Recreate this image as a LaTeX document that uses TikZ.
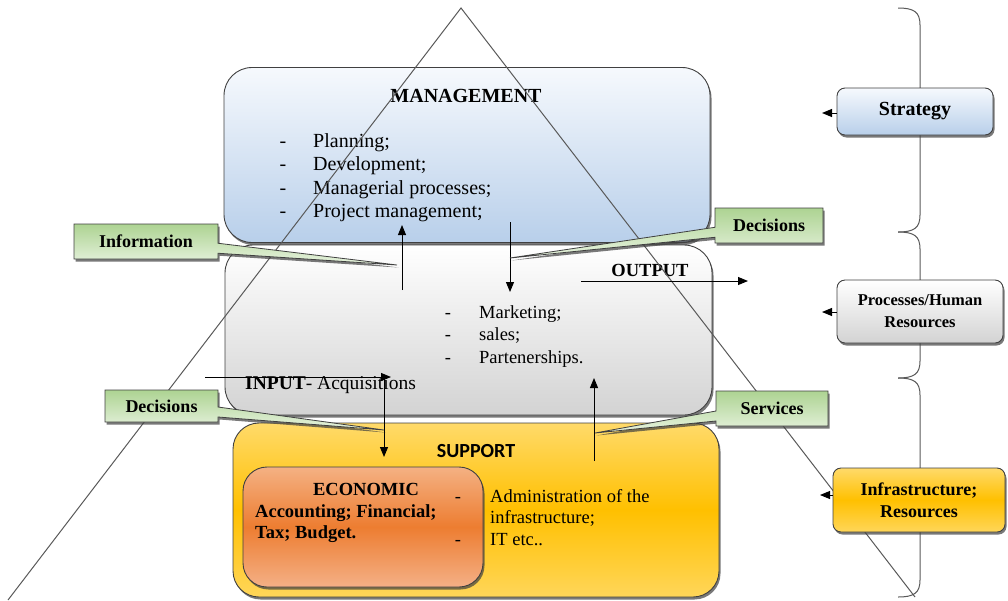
\documentclass[tikz,border=0pt]{standalone}
\usepackage{fontspec}
\setmainfont{Liberation Serif}
\newfontfamily\supportfont{Carlito}
\usepackage{xcolor}
\usetikzlibrary{arrows.meta,shadows,shapes.callouts}
\definecolor{mgmttop}{HTML}{F6F9FD}
\definecolor{mgmtbottom}{HTML}{B8CFEA}
\definecolor{proctop}{HTML}{FFFFFF}
\definecolor{procbottom}{HTML}{D3D3D3}
\definecolor{supporttop}{HTML}{FFDA6A}
\definecolor{supportmid}{HTML}{FFC000}
\definecolor{supportbottom}{HTML}{FFD659}
\definecolor{econtop}{HTML}{F4B183}
\definecolor{econmid}{HTML}{ED7D31}
\definecolor{econbottom}{HTML}{F4B086}
\definecolor{tagtop}{HTML}{ADD392}
\definecolor{tagbottom}{HTML}{E8F3E0}
\definecolor{outline}{HTML}{404040}
\definecolor{pyramid}{HTML}{595959}
\newcommand{\listsize}{\fontsize{20}{23.5}\selectfont}
\newcommand{\bodysize}{\fontsize{18.5}{22.5}\selectfont}
\newcommand{\tagsize}{\fontsize{18}{22}\selectfont\bfseries}
\tikzset{
  boxshadow/.style={drop shadow={shadow xshift=1.5pt, shadow yshift=-2.5pt, fill=black!75, opacity=0.7}},
  layerbox/.style={draw=outline, line width=0.9pt, rounded corners=28pt, boxshadow},
  mgmtbox/.style={layerbox, top color=mgmttop, bottom color=mgmtbottom},
  procbox/.style={layerbox, top color=proctop, bottom color=procbottom},
  supportbox/.style={layerbox, top color=supporttop, bottom color=supportbottom, middle color=supportmid},
  econbox/.style={layerbox, rounded corners=24pt, top color=econtop, bottom color=econbottom, middle color=econmid},
  tagbox/.style={rectangle callout, callout pointer width=10pt, draw=outline, line width=0.8pt, top color=tagtop, bottom color=tagbottom, boxshadow, font=\tagsize, inner sep=0pt},
  levelbox/.style={draw=outline, line width=0.9pt, rounded corners=8pt, boxshadow, align=center, inner sep=0pt},
  flow/.style={black, line width=1pt, -{Triangle[length=10pt,width=8pt]}},
  pyramidline/.style={pyramid, line width=1pt},
  bracket/.style={pyramid, line width=1pt},
  dashmark/.style={anchor=base, inner sep=0pt},
  listitem/.style={anchor=base west, inner sep=0pt}
}

\begin{document}
\begin{tikzpicture}[x=1pt, y=-1pt]
  \useasboundingbox (0,0) rectangle (1008,600);
  % the three layers
  \node[mgmtbox, minimum width=486pt, minimum height=175pt] (mgmt) at (467,155) {};
  \node[procbox, minimum width=487pt, minimum height=170pt] (proc) at (468.5,330) {};
  \node[supportbox, rounded corners=26pt, minimum width=486pt, minimum height=174pt] (support) at (476,510) {};
  \node[econbox, minimum width=240pt, minimum height=120pt] (econ) at (363,527) {};

  \node[anchor=base, font=\listsize\bfseries] (mgmtTitle) at (466,102) {MANAGEMENT};
  \foreach \txt [count=\k] in {Planning;,Development;,Managerial processes;,Project management;}{
    \node[dashmark, font=\listsize] (mgmtDash\k) at (283,123.5+23.5*\k) {-};
    \node[listitem, font=\listsize] (mgmtItem\k) at (313,123.5+23.5*\k) {\txt};
  }

  \node[anchor=base, font=\bodysize\bfseries] (outTitle) at (650,276) {OUTPUT};
  \foreach \txt [count=\k] in {Marketing;,sales;,Partenerships.}{
    \node[dashmark, font=\bodysize] (mktDash\k) at (448,295.5+22.5*\k) {-};
    \node[listitem, font=\bodysize] (mktItem\k) at (479,295.5+22.5*\k) {\txt};
  }
  \node[listitem, font=\fontsize{19.5}{23}\selectfont] (inTitle) at (245,389) {\textbf{INPUT}- Acquisitions};

  \node[anchor=base, font=\supportfont\fontsize{20}{24}\selectfont\bfseries] (supportTitle) at (476,457) {SUPPORT};
  \node[anchor=base, font=\bodysize\bfseries] (econTitle) at (366,495) {ECONOMIC};
  \node[listitem, font=\bodysize\bfseries] (econLine1) at (255,517) {Accounting; Financial;};
  \node[listitem, font=\bodysize\bfseries] (econLine2) at (255,538) {Tax; Budget.};
  \node[dashmark, font=\bodysize] (adminDash1) at (458,502) {-};
  \node[dashmark, font=\bodysize] (adminDash2) at (458,545) {-};
  \node[listitem, font=\bodysize] (adminLine1) at (490,502) {Administration of the};
  \node[listitem, font=\bodysize] (adminLine2) at (490,523.5) {infrastructure;};
  \node[listitem, font=\bodysize] (adminLine3) at (490,545) {IT etc..};

  % pyramid
  \coordinate (apex) at (461,8);
  \coordinate (baseL) at (8,600);
  \coordinate (baseR) at (915,597);
  \draw[pyramidline] (baseL) -- (apex) -- (baseR);

  % flows between layers
  \coordinate (infoFrom) at (402,290);
  \coordinate (infoTo) at (402,225);
  \coordinate (decFrom) at (510,222);
  \coordinate (decTo) at (510,292);
  \coordinate (outFrom) at (581,281);
  \coordinate (outTo) at (748,281);
  \coordinate (inFrom) at (205,377);
  \coordinate (inTo) at (391,377);
  \coordinate (econFrom) at (384,378);
  \coordinate (econTo) at (384,457);
  \coordinate (servFrom) at (594,461);
  \coordinate (servTo) at (594,378);
  \draw[flow] (infoFrom) -- (infoTo);
  \draw[flow] (decFrom) -- (decTo);
  \draw[flow] (outFrom) -- (outTo);
  \draw[flow] (inFrom) -- (inTo);
  \draw[flow] (econFrom) -- (econTo);
  \draw[flow] (servFrom) -- (servTo);

  % callouts
  \coordinate (infoTip) at (397,265);
  \coordinate (decTopTip) at (510,258);
  \coordinate (decLeftTip) at (384,430);
  \coordinate (servTip) at (595,433);
  \node[tagbox, minimum width=144pt, minimum height=35pt, callout absolute pointer={(infoTip)}] (info) at (146,241.5) {Information};
  \node[tagbox, minimum width=108pt, minimum height=35pt, callout absolute pointer={(decTopTip)}] (decTop) at (769,225.5) {Decisions};
  \node[tagbox, minimum width=113pt, minimum height=32pt, callout absolute pointer={(decLeftTip)}] (decLeft) at (161.5,406) {Decisions};
  \node[tagbox, minimum width=112pt, minimum height=35pt, callout absolute pointer={(servTip)}] (services) at (772,408.5) {Services};

  % braces on the right
  \foreach \ya/\yb in {8/232,232/378,378/597}{
    \pgfmathsetmacro{\ym}{(\ya+\yb)/2}
    \draw[bracket] (898,\ya) .. controls (914,\ya) and (920,\ya+4) .. (920,\ya+17) -- (920,\ym-17)
      .. controls (920,\ym-4) and (926,\ym) .. (942,\ym)
      .. controls (926,\ym) and (920,\ym+4) .. (920,\ym+17) -- (920,\yb-17)
      .. controls (920,\yb-4) and (914,\yb) .. (898,\yb);
  }

  \node[levelbox, top color=mgmttop, bottom color=mgmtbottom, minimum width=156pt, minimum height=47pt, font=\fontsize{20}{24}\selectfont\bfseries] (strategy) at (915,111.5) {Strategy};
  \node[levelbox, top color=proctop, bottom color=procbottom, minimum width=166pt, minimum height=63pt, font=\fontsize{16.5}{22}\selectfont\bfseries] (procLevel) at (920,311.5) {Processes/Human\\Resources};
  \node[levelbox, top color=supporttop, bottom color=supportbottom, middle color=supportmid, minimum width=172pt, minimum height=64pt, font=\fontsize{18}{22}\selectfont\bfseries] (infraLevel) at (919,500) {Infrastructure;\\Resources};

  \coordinate (strategyTip) at (822,113);
  \coordinate (procTip) at (822,312);
  \coordinate (infraTip) at (820,495);
  \draw[flow] (strategy.west |- strategyTip) -- (strategyTip);
  \draw[flow] (procLevel.west |- procTip) -- (procTip);
  \draw[flow] (infraLevel.west |- infraTip) -- (infraTip);
\end{tikzpicture}
\end{document}
